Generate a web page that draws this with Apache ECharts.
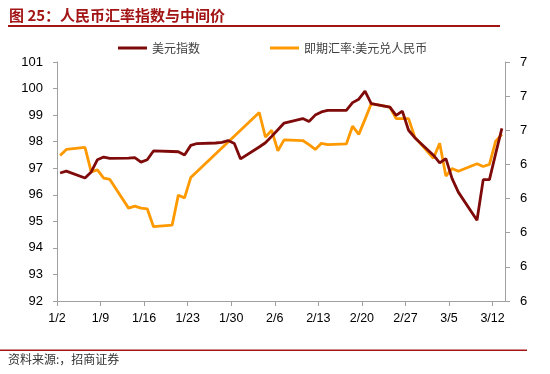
<!DOCTYPE html>
<html><head><meta charset="utf-8">
<script src="https://cdn.jsdelivr.net/npm/echarts@6/dist/echarts.min.js"></script>
<style>html,body{margin:0;padding:0;background:#fff}#c{width:550px;height:374px}</style>
</head><body><div id="c"></div>
<script>
const dates = ['1/2','1/3','1/6','1/7','1/8','1/9','1/10','1/13','1/14','1/15','1/16','1/17','1/20','1/21','1/22','1/23','1/24','1/27','1/28','1/29','1/30','1/31',
  '2/3','2/4','2/5','2/6','2/7','2/10','2/11','2/12','2/13','2/14','2/17','2/18','2/19','2/20','2/21','2/24','2/25','2/26','2/27','2/28',
  '3/2','3/3','3/4','3/5','3/6','3/9','3/10','3/11','3/12','3/13'];
const dxy = [96.82,96.89,96.63,96.86,97.32,97.42,97.37,97.38,97.40,97.23,97.32,97.65,97.63,97.62,97.50,97.86,97.93,97.95,97.97,98.04,97.93,97.35,
  97.80,97.96,98.20,98.45,98.70,98.87,98.76,99.00,99.12,99.18,99.18,99.47,99.60,99.90,99.43,99.30,98.99,99.15,98.43,98.15,
  97.49,97.20,97.36,96.61,96.10,95.04,96.57,96.57,97.55,98.50];
const cny = [6.963,6.972,6.975,6.939,6.942,6.930,6.928,6.886,6.889,6.886,6.885,6.859,6.861,6.905,6.901,6.931,null,null,null,null,null,null,
  7.026,6.990,7.000,6.970,6.986,6.985,6.979,6.972,6.981,6.979,6.980,7.006,6.994,7.016,7.039,7.034,7.017,7.017,7.017,6.990,
  6.959,6.981,6.933,6.944,6.940,6.951,6.947,6.950,6.984,6.994];
const xTickLabels = ['1/2','1/9','1/16','1/23','1/30','2/6','2/13','2/20','2/27','3/5','3/12'];
const seriesNames = ['美元指数','即期汇率:美元兑人民币'];
const titleText = '图 25：人民币汇率指数与中间价';
const sourceText = '资料来源:，招商证券';

// day position of each date (band centre), counted from 1/2
function dayPos(s){
  const p = s.split('/');
  const t = Date.UTC(2020, +p[0]-1, +p[1]);
  return (t - Date.UTC(2020,0,2)) / 86400000 + 0.5;
}
const dxyData = dates.map((d,i)=>[dayPos(d), dxy[i]]);
const cnyData = dates.map((d,i)=>[dayPos(d), cny[i]]);

const RED = '#7F0A0A', ORANGE = '#FF9900', AX = '#A0A0A0', DR = '#A31515';
const chart = echarts.init(document.getElementById('c'));
const labelFont = {fontFamily:'Liberation Sans', color:'#000'};
chart.setOption({
  animation:false,
  backgroundColor:'#fff',
  grid:{left:57, right:45, top:62, bottom:73},
  legend:{left:113, top:37, icon:'rect', itemWidth:29, itemHeight:3, itemGap:70,
    textStyle:{fontSize:12, color:'#404040', fontFamily:'Noto Sans CJK SC'},
    data:seriesNames},
  xAxis:{type:'value', min:0, max:72, interval:7,
    axisLine:{lineStyle:{color:AX}}, axisTick:{length:5, lineStyle:{color:AX}},
    splitLine:{show:false},
    axisLabel:Object.assign({fontSize:12.5, margin:11, showMaxLabel:false,
      formatter:v=> (v%7===0 ? (xTickLabels[v/7]||'') : '')}, labelFont)},
  yAxis:[
    {type:'value', min:92, max:101, interval:1, position:'left',
     axisLine:{show:true, lineStyle:{color:AX}}, axisTick:{show:true, length:4, lineStyle:{color:AX}},
     splitLine:{show:false},
     axisLabel:Object.assign({fontSize:13, margin:14}, labelFont)},
    {type:'value', min:6.75, max:7.10, interval:0.05, position:'right',
     axisLine:{show:true, lineStyle:{color:AX}}, axisTick:{show:true, length:5, lineStyle:{color:AX}},
     splitLine:{show:false},
     axisLabel:Object.assign({fontSize:13, margin:15, formatter:v=>String(Math.floor(v+1e-6))}, labelFont)}
  ],
  series:[
    {name:seriesNames[0], type:'line', yAxisIndex:0, data:dxyData, showSymbol:false,
     lineStyle:{color:RED, width:2.8}, itemStyle:{color:RED}, z:3},
    {name:seriesNames[1], type:'line', yAxisIndex:1, data:cnyData, showSymbol:false, connectNulls:true,
     lineStyle:{color:ORANGE, width:2.8}, itemStyle:{color:ORANGE}, z:2}
  ],
  graphic:[
    {type:'text', left:9, top:8, style:{text:titleText, font:'bold 15px "Noto Sans CJK SC"', fill:DR}},
    {type:'rect', shape:{x:8, y:25, width:492, height:2}, style:{fill:DR}},
    {type:'rect', shape:{x:0, y:349.5, width:527, height:1.5}, style:{fill:DR}},
    {type:'text', left:8, top:353, style:{text:sourceText, font:'12px "Noto Sans CJK SC"', fill:'#333'}}
  ]
});
</script></body></html>
